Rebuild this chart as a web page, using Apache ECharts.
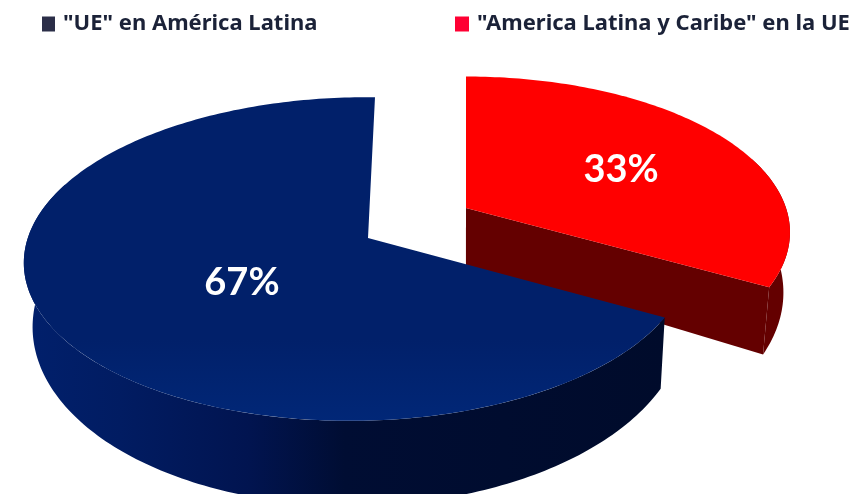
<!DOCTYPE html>
<html>
<head>
<meta charset="utf-8">
<style>html,body{margin:0;padding:0;background:#fff}#chart{width:856px;height:494px}</style>
<script src="https://cdn.jsdelivr.net/npm/echarts@6/dist/echarts.min.js"></script>
</head>
<body>
<div id="chart"></div>
<script>
// Shares of the two trade flows, in drawing order (the rear slice first).
const categories = ['"America Latina y Caribe" en la UE', '"UE" en América Latina'];
const shares = [33, 67];

// Per-slice perspective settings for the tilted disc.
const discs = [
  { cx: 466, cy: 208, rx: 320, ry: 152, k: 0.156, m: 0, skew: 0, labelR: 0.55, labelShift: [10, 3],
    top: '#ff0000', wall: '#640000', legend: '#ff0033' },
  { cx: 368, cy: 238, rx: 330, ry: 159, k: 0.13, m: 0.03, skew: 7, labelR: 0.46, labelShift: [12, 6],
    legend: '#2b2e48',
    top: new echarts.graphic.LinearGradient(0, 0, 0, 1, [
      { offset: 0, color: '#01206a' },
      { offset: 0.75, color: '#01206a' },
      { offset: 1, color: '#012777' }
    ]),
    wall: new echarts.graphic.LinearGradient(0, 0, 1, 0, [
      { offset: 0, color: '#01206c' },
      { offset: 0.15, color: '#011c62' },
      { offset: 0.35, color: '#011450' },
      { offset: 0.5, color: '#000d33' },
      { offset: 1, color: '#000b2b' }
    ]) }
];

const total = shares.reduce((a, b) => a + b, 0);

// Project a point of the unit disc (clockwise angle from the back, radius 0..1) to the screen.
function project(d, deg, r) {
  const t = deg * Math.PI / 180;
  const X = r * Math.sin(t), Z = r * Math.cos(t);
  const w = 1 + d.k * Z + d.m * X;
  return [d.cx + d.rx * X / w + d.skew * Z, d.cy - d.ry * Z / w];
}

// The lower rim converges slightly towards the centre and drops more near the viewer.
function lower(p) {
  return [p[0] + (462 - p[0]) * 0.02, p[1] + 30 + 0.13 * p[1]];
}

function arc(d, from, to) {
  const pts = [];
  const n = Math.max(2, Math.ceil(Math.abs(to - from)));
  for (let i = 0; i <= n; i++) pts.push(project(d, from + (to - from) * i / n, 1));
  return pts;
}

function sliceRenderer(index) {
  const before = shares.slice(0, index).reduce((a, b) => a + b, 0);
  const start = before / total * 360;
  return function (params, api) {
    const value = api.value(0);
    const end = start + value / total * 360;
    const d = discs[index];
    const rim = arc(d, start, end);
    const apex = project(d, 0, 0);
    const mid = project(d, (start + end) / 2, d.labelR);
    const children = [];
    // Outer wall: only the part of the rim that turns towards the viewer
    const wallRim = arc(d, Math.max(start, 70), Math.min(end, 290));
    children.push({
      type: 'polygon',
      shape: { points: wallRim.concat(wallRim.map(lower).reverse()) },
      style: { fill: d.wall }
    });
    // Cut face at the clockwise end of the front slice
    if (index === 0) {
      const corner = rim[rim.length - 1];
      children.push({
        type: 'polygon',
        shape: { points: [apex, corner, lower(corner), lower(apex)] },
        style: { fill: d.wall }
      });
    }
    // Top face
    children.push({
      type: 'polygon',
      shape: { points: [apex].concat(rim) },
      style: { fill: d.top }
    });
    // Percentage label
    children.push({
      type: 'text',
      style: {
        text: Math.round(value / total * 100) + '%',
        x: mid[0] + d.labelShift[0], y: mid[1] + d.labelShift[1],
        fill: '#ffffff',
        font: 'bold 38px Lato, sans-serif',
        align: 'center',
        verticalAlign: 'middle'
      }
    });
    return { type: 'group', children };
  };
}

const legendText = { fontFamily: '"Noto Sans", sans-serif', fontSize: 22, fontWeight: 'bold', color: '#1b2238', padding: [0, 0, 0, 3] };

const chart = echarts.init(document.getElementById('chart'), null, { renderer: 'canvas' });
chart.setOption({
  animation: false,
  backgroundColor: '#ffffff',
  legend: [
    { left: 37, top: 8, icon: 'rect', itemWidth: 13, itemHeight: 15, itemGap: 8,
      textStyle: legendText, selectedMode: false,
      data: [{ name: categories[1], itemStyle: { color: discs[1].legend } }] },
    { left: 450, top: 8, icon: 'rect', itemWidth: 14, itemHeight: 15, itemGap: 8,
      textStyle: legendText, selectedMode: false,
      data: [{ name: categories[0], itemStyle: { color: discs[0].legend } }] }
  ],
  series: categories.map((name, i) => ({
    type: 'custom',
    name,
    coordinateSystem: 'none',
    silent: true,
    itemStyle: { color: i === 0 ? discs[i].top : '#01206a' },
    data: [shares[i]],
    renderItem: sliceRenderer(i)
  }))
});
</script>
</body>
</html>
